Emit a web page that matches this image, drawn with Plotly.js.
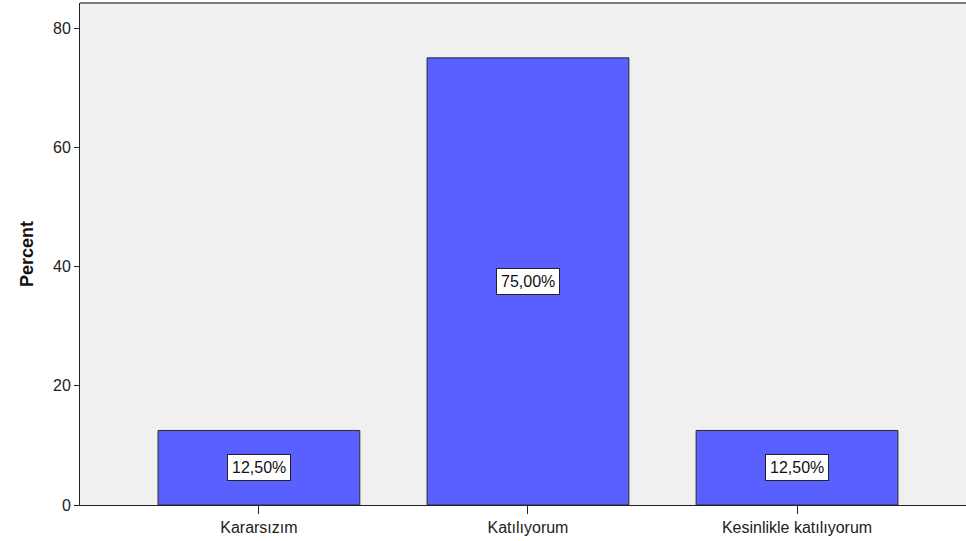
<!DOCTYPE html>
<html>
<head>
<meta charset="utf-8">
<script src="https://cdn.plot.ly/plotly-3.0.1.min.js"></script>
<style>html,body{margin:0;padding:0;background:#fff;}#chart{width:966px;height:541px;}</style>
</head>
<body>
<div id="chart"></div>
<script>
var categories = ["Kararsızım", "Katılıyorum", "Kesinlikle katılıyorum"];
var percentValues = [12.5, 75.0, 12.5];
var valueLabels = ["12,50%", "75,00%", "12,50%"];
var yTicks = [0, 20, 40, 60, 80];

var FONT = "Liberation Sans, Arial, sans-serif";

var trace = {
  type: "bar",
  x: categories,
  y: percentValues,
  width: 0.75,
  marker: {color: "#5A5FFF", line: {color: "#2a2a2a", width: 1}},
  hoverinfo: "none"
};

var annotations = categories.map(function(c, i) {
  return {
    x: c, y: percentValues[i] / 2, xref: "x", yref: "y",
    text: valueLabels[i], showarrow: false,
    bgcolor: "#ffffff", bordercolor: "#222", borderwidth: 1, borderpad: 4,
    font: {family: FONT, size: 16, color: "#111"}
  };
});

var layout = {
  width: 966, height: 541,
  margin: {l: 80, r: 0, t: 3, b: 36},
  paper_bgcolor: "#ffffff",
  plot_bgcolor: "#F0F0F0",
  showlegend: false,
  bargap: 0,
  xaxis: {
    type: "category",
    range: [-0.665, 2.628],
    showgrid: false, zeroline: false,
    showline: true, linecolor: "#222", linewidth: 1,
    ticks: "outside", ticklen: 8, tickcolor: "#222", tickwidth: 1,
    tickfont: {family: FONT, size: 16, color: "#222"}
  },
  yaxis: {
    range: [0, 84.2],
    tickvals: yTicks,
    showgrid: false, zeroline: false,
    showline: true, linecolor: "#222", linewidth: 1,
    ticks: "outside", ticklen: 5, tickcolor: "#222", tickwidth: 1,
    tickfont: {family: FONT, size: 16, color: "#222"},
    title: {text: "<b>Percent</b>", standoff: 14,
      font: {family: FONT, size: 18, color: "#111"}}
  },
  annotations: annotations,
  shapes: [{
    type: "line", xref: "paper", yref: "paper",
    x0: 0, x1: 1, y0: 1, y1: 1,
    line: {color: "#7a7a7a", width: 2}
  }]
};

Plotly.newPlot("chart", [trace], layout, {displayModeBar: false, staticPlot: true});
</script>
</body>
</html>
